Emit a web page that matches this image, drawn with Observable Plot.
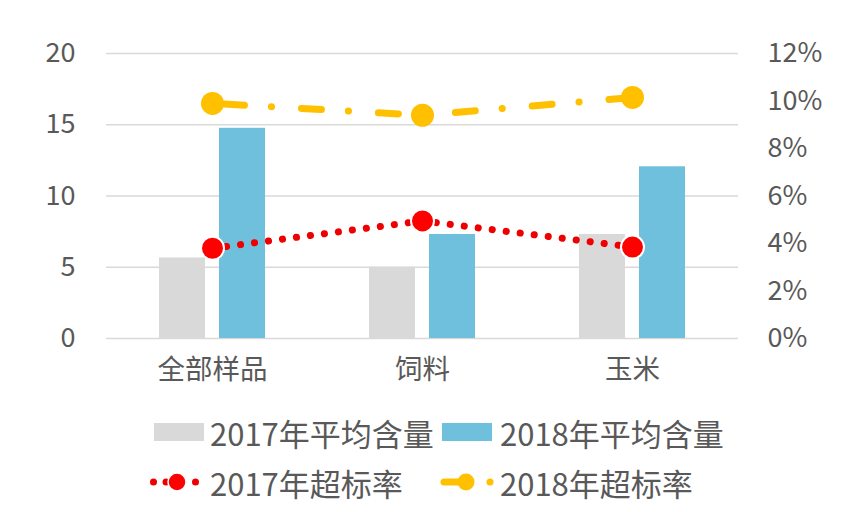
<!DOCTYPE html>
<html><head><meta charset="utf-8">
<script src="https://cdn.jsdelivr.net/npm/d3@7"></script>
<script src="https://cdn.jsdelivr.net/npm/@observablehq/plot@0.6"></script>
<style>
body{margin:0;background:#fff;font-family:"Noto Sans CJK SC","Noto Sans",sans-serif;}
#chart{width:844px;height:512px;position:relative;overflow:hidden;background:#fff}
#chart svg.plot{display:block}
.legend{position:absolute;left:150px;top:407px;display:grid;grid-template-columns:290px auto;grid-auto-rows:50px;color:#595959;font-size:31px;}
.item{display:flex;align-items:center;white-space:nowrap}
.item svg{flex:none;margin-right:4px}
</style></head><body><div id="chart"></div>
<script>
const categories = ["全部样品", "饲料", "玉米"];
const avg2017 = [5.65, 5.0, 7.3];
const avg2018 = [14.75, 7.3, 12.05];
const rate2017 = [3.8, 4.95, 3.85];
const rate2018 = [9.9, 9.4, 10.15];
const leftTicks = [0, 5, 10, 15, 20];
const rightTicks = [0, 2, 4, 6, 8, 10, 12];
const seriesNames = ["2017年平均含量", "2018年平均含量", "2017年超标率", "2018年超标率"];
const colors = ["#d9d9d9", "#6fc0dc", "#ee0000", "#ffc000"];

const k = 20 / 12; // right axis (%) mapped onto left axis domain
const data = categories.map((c, i) => ({cat: c, a17: avg2017[i], a18: avg2018[i], r17: rate2017[i], r18: rate2018[i]}));
const axisColor = "#595959";

const plot = Plot.plot({
  width: 844, height: 400,
  marginTop: 53, marginBottom: 62, marginLeft: 106, marginRight: 106,
  style: {fontFamily: '"Noto Sans CJK SC","Noto Sans",sans-serif', background: "#fff"},
  x: {type: "band", domain: categories, padding: 0},
  y: {domain: [0, 20]},
  marks: [
    Plot.gridY(leftTicks, {stroke: "#d9d9d9", strokeOpacity: 1, strokeWidth: 1.6}),
    Plot.barY(data, {x: "cat", y: "a17", fill: colors[0], insetLeft: 52, insetRight: 112}),
    Plot.barY(data, {x: "cat", y: "a18", fill: colors[1], insetLeft: 112, insetRight: 52}),
    Plot.line(data, {x: "cat", y: d => d.r17 * k, stroke: colors[2], strokeWidth: 7, strokeDasharray: "0.1 14", strokeLinecap: "round"}),
    Plot.line(data, {x: "cat", y: d => d.r18 * k, stroke: colors[3], strokeWidth: 7, strokeDasharray: "20 27 0.1 30", strokeDashoffset: -12, strokeLinecap: "round"}),
    Plot.dot(data, {x: "cat", y: d => d.r17 * k, r: 11.5, fill: "#ff0000", stroke: "#fff", strokeWidth: 2}),
    Plot.dot(data, {x: "cat", y: d => d.r18 * k, r: 11.5, fill: colors[3]}),
    Plot.axisY(leftTicks, {anchor: "left", tickSize: 0, tickPadding: 31, fontSize: 27, color: axisColor, label: null}),
    Plot.axisY(rightTicks.map(p => p * k), {anchor: "right", tickSize: 0, tickPadding: 29, fontSize: 27, color: axisColor, label: null, tickFormat: v => Math.round(v / k) + "%"}),
    Plot.axisX({anchor: "bottom", tickSize: 0, tickPadding: 21, fontSize: 27.5, color: axisColor, label: null})
  ]
});
const chart = document.getElementById("chart");
chart.appendChild(plot);

// Legend (HTML below the SVG)
const legend = document.createElement("div");
legend.className = "legend";
const sw = {
  0: `<svg width="56" height="50"><rect x="4" y="16" width="50" height="18" fill="${colors[0]}"/></svg>`,
  1: `<svg width="56" height="50"><rect x="2" y="16" width="50" height="18" fill="${colors[1]}"/></svg>`,
  2: `<svg width="56" height="50"><circle cx="3.5" cy="25" r="3.5" fill="${colors[2]}"/><circle cx="16" cy="25" r="3.5" fill="${colors[2]}"/><circle cx="45.5" cy="25" r="3.5" fill="${colors[2]}"/><circle cx="27" cy="25" r="9" fill="#ff0000" stroke="#fff" stroke-width="1.5"/></svg>`,
  3: `<svg width="56" height="50"><line x1="4" y1="25" x2="18" y2="25" stroke="${colors[3]}" stroke-width="7" stroke-linecap="round"/><circle cx="26" cy="25" r="8.5" fill="${colors[3]}"/><circle cx="50" cy="25" r="3.5" fill="${colors[3]}"/></svg>`
};
seriesNames.forEach((name, i) => {
  const it = document.createElement("div");
  it.className = "item";
  it.innerHTML = sw[i] + `<span>${name}</span>`;
  legend.appendChild(it);
});
chart.appendChild(legend);
</script></body></html>
